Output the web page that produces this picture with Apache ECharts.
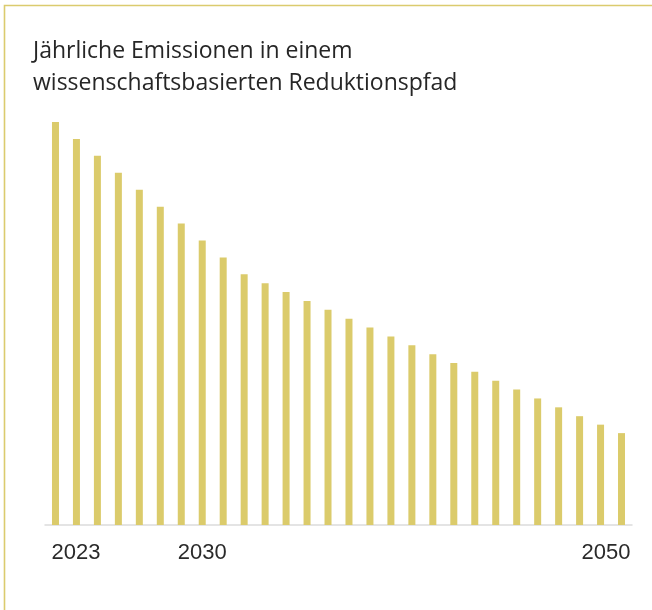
<!DOCTYPE html>
<html>
<head>
<meta charset="utf-8">
<script src="https://cdn.jsdelivr.net/npm/echarts@6/dist/echarts.min.js"></script>
<style>
  html, body { margin: 0; padding: 0; background: #ffffff; }
  #chart { width: 652px; height: 610px; }
</style>
</head>
<body>
<div id="chart"></div>
<script>
const titleLines = ['Jährliche Emissionen in einem', 'wissenschaftsbasierten Reduktionspfad'];
const years = ['2023','2024','2025','2026','2027','2028','2029','2030','2031','2032',
               '2033','2034','2035','2036','2037','2038','2039','2040','2041','2042',
               '2043','2044','2045','2046','2047','2048','2049','2050'];
const emissions = [100, 95.8, 91.6, 87.4, 83.2, 79.0, 74.8, 70.6, 66.4, 62.2,
                   60.0, 57.8, 55.6, 53.4, 51.2, 49.0, 46.8, 44.6, 42.4, 40.2,
                   38.0, 35.8, 33.6, 31.4, 29.2, 27.0, 24.9, 22.8];
const shownLabels = ['2023', '2030', '2050'];

const chart = echarts.init(document.getElementById('chart'), null, { renderer: 'canvas' });

const catData = years.map(function (y, i) {
  if (i === 0) return { value: y, textStyle: { align: 'left', padding: [0, 0, 0, -4] } };
  if (i === years.length - 1) return { value: y, textStyle: { align: 'right', padding: [0, -9, 0, 0] } };
  return y;
});

chart.setOption({
  animation: false,
  backgroundColor: '#ffffff',
  title: {
    text: titleLines.join('\n'),
    left: 33,
    top: 35,
    padding: 0,
    textStyle: {
      fontFamily: 'Open Sans',
      fontSize: 23,
      fontWeight: 'normal',
      color: '#262626',
      lineHeight: 32
    }
  },
  graphic: [{
    type: 'polyline',
    silent: true,
    shape: { points: [[4.5, 700], [4.5, 5.5], [700, 5.5]] },
    style: { stroke: '#DBCB6E', lineWidth: 1.6, fill: null }
  }],
  grid: {
    left: 45,
    right: 20,
    top: 122,
    bottom: 85,
    containLabel: false,
    outerBoundsMode: 'none'
  },
  xAxis: {
    type: 'category',
    data: catData,
    boundaryGap: true,
    axisLine: { show: true, lineStyle: { color: '#dcdcdc', width: 1.5 } },
    axisTick: { show: false },
    axisLabel: {
      interval: 0,
      margin: 17,
      fontFamily: 'Liberation Sans',
      fontSize: 22,
      color: '#2a2a2a',
      hideOverlap: false,
      formatter: function (v) { return shownLabels.indexOf(v) >= 0 ? v : ''; }
    },
    splitLine: { show: false }
  },
  yAxis: {
    type: 'value',
    min: 0,
    max: 100,
    show: false
  },
  series: [{
    type: 'bar',
    data: emissions,
    barWidth: 7,
    itemStyle: { color: '#DBCB6B' }
  }]
});
</script>
</body>
</html>
